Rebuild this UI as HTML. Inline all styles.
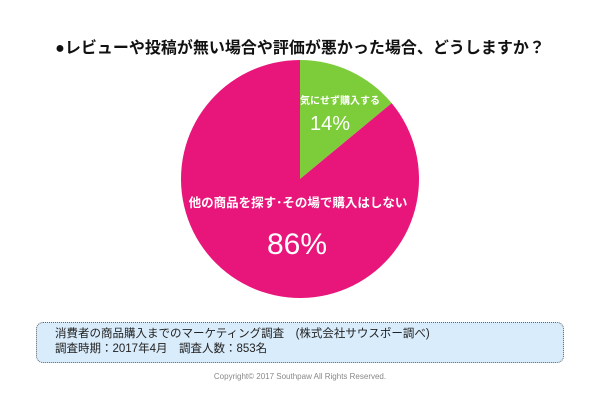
<!DOCTYPE html>
<html><head><meta charset="utf-8"><style>
body{margin:0;width:600px;height:400px;background:#fff;font-family:"Liberation Sans","Noto Sans CJK JP",sans-serif;position:relative;overflow:hidden}
#title{position:absolute;left:0;width:600px;top:34px;text-align:center;font-size:16px;font-weight:bold;color:#111}
#note{position:absolute;left:36px;top:322px;width:528px;height:41px;background:#d9ecfb;border:1.5px dotted #666;border-radius:7px;box-sizing:border-box;font-size:11.5px;color:#222;padding:4px 0 0 18px;line-height:15px}
#copy{position:absolute;left:0;width:600px;top:372px;text-align:center;font-size:8px;color:#888}
</style></head><body>
<div id="title">●レビューや投稿が無い場合や評価が悪かった場合、どうしますか？</div>
<svg id="pie" width="600" height="400" style="position:absolute;left:0;top:0"></svg>
<div id="note">消費者の商品購入までのマーケティング調査　(株式会社サウスポー調べ)<br>調査時期：2017年4月　調査人数：853名</div>
<div id="copy">Copyright© 2017 Southpaw All Rights Reserved.</div>
<script>
const categories=["気にせず購入する","他の商品を探す･その場で購入はしない"];
const values=[14,86];
const colors=["#7dcd3a","#e8157b"];
const svg=document.getElementById('pie');
const NS="http://www.w3.org/2000/svg";
const cx=300,cy=179,r=119;
const total=values.reduce((a,b)=>a+b,0);
let a0=0;
values.forEach((v,i)=>{
  const a1=a0+v/total*Math.PI*2;
  const x0=cx+r*Math.sin(a0),y0=cy-r*Math.cos(a0),x1=cx+r*Math.sin(a1),y1=cy-r*Math.cos(a1);
  const p=document.createElementNS(NS,'path');
  p.setAttribute('d',`M${cx},${cy}L${x0},${y0}A${r},${r} 0 ${a1-a0>Math.PI?1:0} 1 ${x1},${y1}Z`);
  p.setAttribute('fill',colors[i]);
  
  
  svg.appendChild(p);
  a0=a1;
});
function txt(x,y,s,size,w,name){
  const t=document.createElementNS(NS,'text');
  t.setAttribute('x',x);t.setAttribute('y',y);t.setAttribute('fill','#fff');
  t.setAttribute('font-size',size);t.setAttribute('font-weight',w);t.setAttribute('text-anchor','middle');
  t.textContent=s;
  
  
  svg.appendChild(t);
}
txt(340,104,categories[0],10,'bold','label-0');
txt(330,130,values[0]+'%',20,'normal','value-0');
txt(298,207,categories[1],12.5,'bold','label-1');
txt(297,254,values[1]+'%',30,'normal','value-1');
</script>
</body></html>
